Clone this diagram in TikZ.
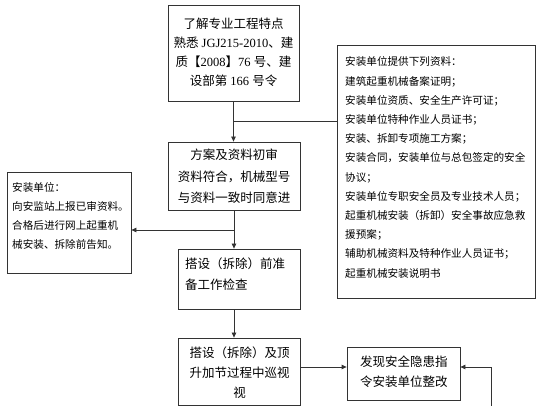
\documentclass[tikz,border=0pt]{standalone}
\usepackage{fontspec}
\setmainfont{Liberation Serif}
\newfontfamily\cjk{Noto Sans CJK SC}
\usetikzlibrary{arrows.meta}
\begin{document}
\begin{tikzpicture}[x=1pt,y=-1pt,
  box/.style={draw=black!80, line width=0.8pt, fill=white, inner sep=0pt},
  big/.style={inner sep=0pt, font=\cjk\fontsize{12.5}{19}\selectfont},
  small/.style={inner sep=0pt, align=left, font=\cjk\fontsize{10.6}{19.2}\selectfont},
  arr/.style={draw=black!80, line width=0.8pt, -{Triangle[length=5pt,width=4.5pt]}},
  ln/.style={draw=black!80, line width=0.8pt}]
\useasboundingbox (0,0) rectangle (560,406);
% boxes
\node[box, minimum width=131pt, minimum height=96pt] (b1) at (233.5,53) {};
\node[box, minimum width=132pt, minimum height=68pt] (b2) at (234,176) {};
\node[box, minimum width=122pt, minimum height=60pt] (b3) at (239,279) {};
\node[box, minimum width=122pt, minimum height=67pt] (b4) at (239,371.5) {};
\node[box, minimum width=113pt, minimum height=53pt] (b5) at (403.5,373.5) {};
\node[box, minimum width=124pt, minimum height=101pt] (lb) at (69,222.5) {};
\node[box, minimum width=198pt, minimum height=253pt] (rb) at (436,171.5) {};
% texts
\node[inner sep=0pt, align=center, font=\fontsize{12.5}{19}\selectfont] (t1) at (233.5,52)
  {{\cjk 了解专业工程特点}\\{\cjk 熟悉} JGJ215-2010{\cjk 、建}\\{\cjk 质【}2008{\cjk 】}76 {\cjk 号、建}\\{\cjk 设部第} 166 {\cjk 号令}};
\node[big, align=center, font=\cjk\fontsize{12.5}{21.5}\selectfont] (t2) at (234,176.5)
  {方案及资料初审\\资料符合，机械型号\\与资料一致时同意进};
\node[big, align=left, anchor=west, font=\cjk\fontsize{12.5}{21}\selectfont] (t3) at (185,274.5)
  {搭设（拆除）前准\\备工作检查};
\node[big, align=center, font=\cjk\fontsize{12.5}{20}\selectfont] (t4) at (239.5,373)
  {搭设（拆除）及顶\\升加节过程中巡视\\视};
\node[big, align=left, anchor=west, font=\cjk\fontsize{12.5}{20}\selectfont] (t5) at (360,372)
  {发现安全隐患指\\令安装单位整改};
\node[small, anchor=west, font=\cjk\fontsize{10.6}{19.3}\selectfont] (tl) at (12,216)
  {安装单位：\\向安监站上报已审资料。\\合格后进行网上起重机\\械安装、拆除前告知。};
\node[small, anchor=west] (tr) at (345,167.5)
  {安装单位提供下列资料：\\建筑起重机械备案证明；\\安装单位资质、安全生产许可证；\\安装单位特种作业人员证书；\\安装、拆卸专项施工方案；\\安装合同，安装单位与总包签定的安全\\协议；\\安装单位专职安全员及专业技术人员；\\起重机械安装（拆卸）安全事故应急救\\援预案；\\辅助机械资料及特种作业人员证书；\\起重机械安装说明书};
% connectors
\coordinate (j1) at (234,121);
\coordinate (j2) at (234,230);
\coordinate (r1) at (491,406);
\coordinate (r2) at (491,367);
\draw[arr] (b1.south) -- (b1.south |- b2.north);
\draw[ln] (rb.west |- j1) -- (j1);
\draw[arr] (b2.south) -- (b2.south |- b3.north);
\draw[arr] (j2) -- (lb.east |- j2);
\draw[arr] (b2.south |- b3.south) -- (b2.south |- b4.north);
\draw[arr] (b4.east |- r2) -- (b5.west |- r2);
\draw[arr] (r1) -- (r2) -- (b5.east |- r2);
\end{tikzpicture}
\end{document}
